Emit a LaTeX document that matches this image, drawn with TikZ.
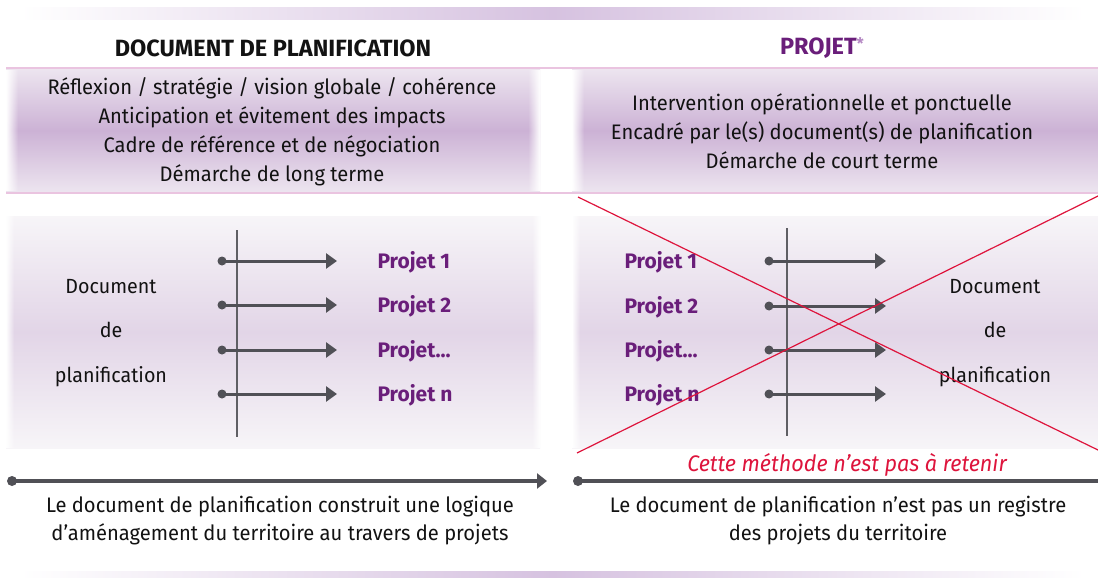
\documentclass[tikz,border=0pt]{standalone}
\usepackage{fontspec}
\setmainfont{Fira Sans}[FakeStretch=0.96]
\newfontfamily\headfont{Fira Sans}
\usetikzlibrary{arrows.meta,fadings}
\definecolor{bandpurple}{RGB}{214,194,224}
\definecolor{boxpurple}{RGB}{204,178,213}
\definecolor{boxlight}{RGB}{236,228,239}
\definecolor{panelmid}{RGB}{226,213,231}
\definecolor{paneledge}{RGB}{247,245,248}
\definecolor{pinkline}{RGB}{234,196,224}
\definecolor{projpurple}{RGB}{106,30,122}
\definecolor{starpurple}{RGB}{180,135,195}
\definecolor{arrowgray}{RGB}{80,80,86}
\definecolor{axisgray}{RGB}{95,95,100}
\definecolor{crossred}{RGB}{222,20,60}
\definecolor{textblack}{RGB}{18,18,18}
\tikzfading[name=fadeoutright, left color=transparent!0, right color=transparent!100]
\tikzfading[name=fadeoutleft, left color=transparent!100, right color=transparent!0]
\tikzset{
  bodytext/.style={text=textblack, align=center, font=\fontsize{21}{29}\selectfont},
  headtext/.style={font=\headfont\fontsize{23.5}{26}\selectfont\bfseries},
  projlabel/.style={text=projpurple, anchor=west, font=\headfont\fontsize{21}{24}\selectfont\bfseries},
  doctext/.style={text=textblack, align=center, font=\fontsize{20.5}{44.5}\selectfont},
  projarrow/.style={draw=arrowgray, line width=3pt, -{Triangle[length=11pt,width=15pt]}},
  timeline/.style={draw=arrowgray, line width=3.5pt, -{Triangle[length=10pt,width=15pt]}},
  dotmark/.style={fill=arrowgray},
  axisline/.style={draw=axisgray, line width=1.2pt},
  pinkrule/.style={draw=pinkline, line width=1.5pt},
  crossline/.style={draw=crossred, line width=1.2pt},
}
\begin{document}
\begin{tikzpicture}[x=1pt,y=-1pt]
\clip (0,0) rectangle (1098,578);
\fill[white] (0,0) rectangle (1098,578);
% top and bottom bands
\shade[left color=white, right color=white, middle color=bandpurple] (20,8) rectangle (1085,20);
\shade[left color=white, right color=white, middle color=bandpurple] (20,571) rectangle (1085,578);
% rules
\draw[pinkrule] (6,68) -- (1098,68);
\draw[pinkrule] (6,193) -- (1098,193);
% purple boxes
\shade[top color=boxlight, bottom color=boxlight, middle color=boxpurple] (6,70) rectangle (540,191);
\fill[white, path fading=fadeoutright] (6,70) rectangle (18,191);
\fill[white, path fading=fadeoutleft] (528,70) rectangle (540,191);
\shade[top color=boxlight, bottom color=boxlight, middle color=boxpurple] (572,70) rectangle (1098,191);
\fill[white, path fading=fadeoutright] (572,70) rectangle (584,191);
% middle panels
\shade[top color=paneledge, bottom color=paneledge, middle color=panelmid] (6,216) rectangle (540,448);
\fill[white, path fading=fadeoutright] (6,216) rectangle (14,448);
\fill[white, path fading=fadeoutleft] (532,216) rectangle (540,448);
\shade[top color=paneledge, bottom color=paneledge, middle color=panelmid] (572,216) rectangle (1098,448);
\fill[white, path fading=fadeoutright] (572,216) rectangle (580,448);
% headers
\node[headtext, text=textblack] (hleft) at (273,48) {DOCUMENT DE PLANIFICATION};
\node[headtext, text=projpurple] (hright) at (822,48) {PROJET\raisebox{5pt}{\fontsize{16}{16}\selectfont\color{starpurple}*}};
% box texts
\node[bodytext] (bleft) at (272,132) {Réflexion / stratégie / vision globale / cohérence\\Anticipation et évitement des impacts\\Cadre de référence et de négociation\\Démarche de long terme};
\node[bodytext] (bright) at (822,131.5) {Intervention opérationnelle et ponctuelle\\Encadré par le(s) document(s) de planification\\Démarche de court terme};
% left panel
\node[doctext] (docleft) at (111,333) {Document\\de\\planification};
\draw[axisline] (237,230) -- (237,437);
\foreach \i/\y/\t in {1/261/{Projet 1}, 2/305/{Projet 2}, 3/350/{Projet.{}.{}.}, 4/394/{Projet n}} {
  \coordinate (ls\i) at (222,\y);
  \coordinate (le\i) at (337,\y);
  \draw[projarrow] (ls\i) -- (le\i);
  \fill[dotmark] (ls\i) circle (4.5);
  \node[projlabel] (lp\i) at (374,\y+1) {\t};
}
% right panel
\node[doctext] (docright) at (995,333) {Document\\de\\planification};
\draw[axisline] (787,228) -- (787,436);
\foreach \i/\y/\t in {1/261/{Projet 1}, 2/306/{Projet 2}, 3/350/{Projet.{}.{}.}, 4/394/{Projet n}} {
  \coordinate (rs\i) at (769,\y);
  \coordinate (re\i) at (886,\y);
  \draw[projarrow] (rs\i) -- (re\i);
  \fill[dotmark] (rs\i) circle (4.5);
  \node[projlabel] (rp\i) at (621,\y+1) {\t};
}
% red cross
\coordinate (xa) at (578,197);
\coordinate (xb) at (1098,450);
\coordinate (xc) at (577,453);
\coordinate (xd) at (1098,196);
\draw[crossline] (xa) -- (xb);
\draw[crossline] (xc) -- (xd);
% timelines
\coordinate (t1s) at (12,481);
\coordinate (t1e) at (547,481);
\coordinate (t2s) at (578,481);
\coordinate (t2e) at (1108,481);
\draw[timeline] (t1s) -- (t1e);
\fill[dotmark] (t1s) circle (5);
\draw[timeline] (t2s) -- (t2e);
\fill[dotmark] (t2s) circle (5);
\node[text=crossred, font=\fontsize{22.5}{24}\selectfont\itshape] (warn) at (847,465) {Cette méthode n’est pas à retenir};
% bottom texts
\node[bodytext, font=\fontsize{21}{28}\selectfont] (fleft) at (280,521) {Le document de planification construit une logique\\d’aménagement du territoire au travers de projets};
\node[bodytext, font=\fontsize{21}{28}\selectfont] (fright) at (838,521) {Le document de planification n’est pas un registre\\des projets du territoire};
\end{tikzpicture}
\end{document}
